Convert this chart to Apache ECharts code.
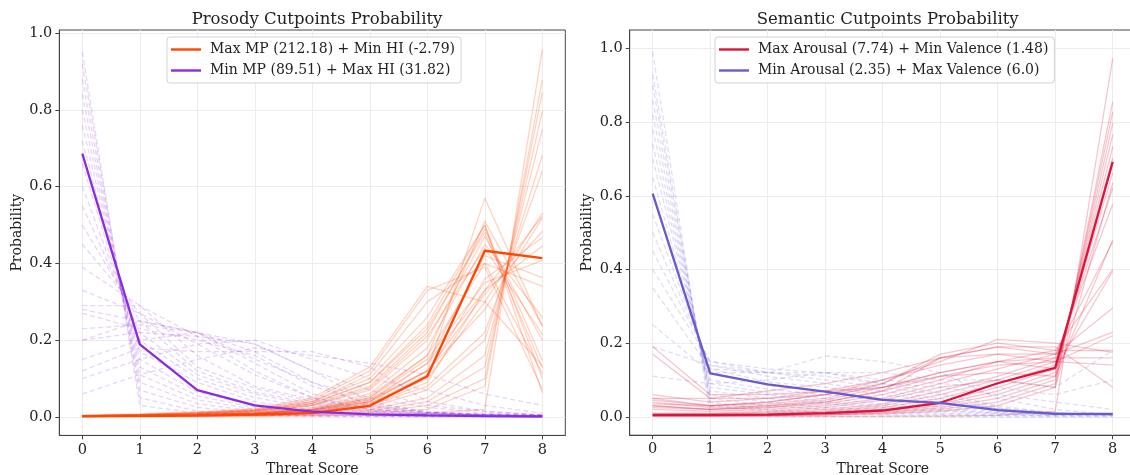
<!DOCTYPE html>
<html>
<head>
<meta charset="utf-8">
<script src="https://cdn.jsdelivr.net/npm/echarts@6/dist/echarts.min.js"></script>
<style>
html,body{margin:0;padding:0;background:#fff;}
#chart{width:1130px;height:475px;}
</style>
</head>
<body>
<div id="chart"></div>
<script>
// ---------- DATA ----------
const scores = [0, 1, 2, 3, 4, 5, 6, 7, 8];
const yTicks = [0, 0.2, 0.4, 0.6, 0.8, 1.0];

const prosodyTitle = 'Prosody Cutpoints Probability';
const semanticTitle = 'Semantic Cutpoints Probability';
const prosodyHighName = 'Max MP (212.18) + Min HI (-2.79)';
const prosodyLowName = 'Min MP (89.51) + Max HI (31.82)';
const semanticHighName = 'Max Arousal (7.74) + Min Valence (1.48)';
const semanticLowName = 'Min Arousal (2.35) + Max Valence (6.0)';

const prosodyHighMain = [0.002, 0.003, 0.004, 0.006, 0.010, 0.029, 0.106, 0.433, 0.414];
const prosodyLowMain = [0.686, 0.189, 0.070, 0.030, 0.014, 0.007, 0.004, 0.002, 0.001];
const semanticHighMain = [0.005, 0.005, 0.006, 0.010, 0.017, 0.038, 0.091, 0.133, 0.692];
const semanticLowMain = [0.606, 0.118, 0.088, 0.068, 0.046, 0.038, 0.018, 0.008, 0.008];

const prosodyHighSamples = [
  [0.001,0.001,0.001,0.002,0.003,0.005,0.010,0.020,0.957],
  [0.001,0.001,0.002,0.003,0.005,0.010,0.020,0.080,0.878],
  [0.001,0.001,0.002,0.003,0.006,0.012,0.030,0.100,0.845],
  [0.001,0.002,0.003,0.004,0.008,0.015,0.040,0.130,0.797],
  [0.001,0.002,0.003,0.005,0.010,0.020,0.050,0.160,0.749],
  [0.001,0.002,0.003,0.006,0.012,0.025,0.070,0.200,0.681],
  [0.002,0.003,0.004,0.007,0.014,0.030,0.080,0.220,0.640],
  [0.002,0.003,0.005,0.008,0.016,0.035,0.100,0.300,0.531],
  [0.002,0.003,0.005,0.009,0.018,0.040,0.120,0.320,0.483],
  [0.002,0.003,0.005,0.010,0.020,0.045,0.140,0.330,0.445],
  [0.002,0.004,0.006,0.010,0.020,0.050,0.150,0.350,0.408],
  [0.002,0.004,0.006,0.011,0.022,0.055,0.160,0.400,0.340],
  [0.002,0.004,0.007,0.012,0.025,0.060,0.180,0.450,0.260],
  [0.003,0.005,0.008,0.014,0.030,0.070,0.200,0.470,0.200],
  [0.003,0.005,0.008,0.015,0.032,0.080,0.220,0.490,0.147],
  [0.003,0.006,0.009,0.016,0.035,0.090,0.240,0.500,0.101],
  [0.003,0.006,0.010,0.018,0.040,0.100,0.260,0.500,0.063],
  [0.004,0.007,0.012,0.020,0.045,0.120,0.330,0.390,0.072],
  [0.004,0.008,0.013,0.022,0.050,0.130,0.340,0.300,0.133],
  [0.003,0.006,0.010,0.018,0.040,0.110,0.300,0.400,0.113],
  [0.002,0.003,0.005,0.008,0.016,0.040,0.120,0.570,0.236],
  [0.002,0.004,0.006,0.010,0.020,0.050,0.160,0.510,0.238],
  [0.002,0.003,0.005,0.009,0.018,0.040,0.140,0.420,0.363],
  [0.001,0.002,0.004,0.007,0.014,0.035,0.110,0.360,0.467],
  [0.001,0.002,0.004,0.007,0.013,0.030,0.090,0.330,0.523],
  [0.002,0.003,0.005,0.009,0.018,0.045,0.120,0.280,0.518],
  [0.003,0.005,0.008,0.014,0.030,0.075,0.210,0.440,0.215],
  [0.003,0.006,0.010,0.017,0.036,0.090,0.230,0.480,0.128]
];

const prosodyLowSamples = [
  [0.950,0.030,0.010,0.004,0.002,0.001,0.001,0.001,0.001],
  [0.920,0.050,0.015,0.006,0.003,0.002,0.001,0.001,0.002],
  [0.880,0.070,0.025,0.010,0.005,0.003,0.002,0.002,0.003],
  [0.840,0.090,0.035,0.015,0.008,0.004,0.003,0.002,0.003],
  [0.800,0.110,0.045,0.020,0.010,0.006,0.004,0.003,0.002],
  [0.760,0.130,0.055,0.025,0.012,0.007,0.005,0.003,0.003],
  [0.720,0.150,0.065,0.030,0.015,0.008,0.005,0.004,0.003],
  [0.660,0.170,0.090,0.040,0.018,0.010,0.006,0.004,0.002],
  [0.600,0.200,0.100,0.050,0.025,0.012,0.007,0.004,0.002],
  [0.550,0.220,0.110,0.060,0.030,0.015,0.008,0.005,0.002],
  [0.500,0.250,0.120,0.065,0.035,0.015,0.008,0.005,0.002],
  [0.450,0.270,0.130,0.075,0.040,0.018,0.009,0.006,0.002],
  [0.390,0.290,0.160,0.080,0.045,0.020,0.010,0.006,0.003],
  [0.330,0.270,0.190,0.110,0.050,0.025,0.012,0.008,0.005],
  [0.290,0.290,0.210,0.120,0.050,0.020,0.010,0.006,0.004],
  [0.280,0.250,0.220,0.140,0.060,0.030,0.010,0.006,0.004],
  [0.270,0.230,0.200,0.160,0.080,0.035,0.015,0.006,0.004],
  [0.230,0.240,0.220,0.170,0.090,0.030,0.012,0.005,0.003],
  [0.200,0.220,0.210,0.190,0.120,0.040,0.012,0.005,0.003],
  [0.120,0.180,0.170,0.170,0.170,0.130,0.040,0.015,0.005],
  [0.100,0.150,0.190,0.200,0.150,0.100,0.070,0.030,0.010],
  [0.060,0.110,0.150,0.180,0.160,0.140,0.110,0.060,0.030],
  [0.200,0.250,0.220,0.150,0.090,0.050,0.025,0.010,0.005],
  [0.150,0.200,0.220,0.190,0.120,0.070,0.030,0.015,0.005]
];

const semanticHighSamples = [
  [0.001,0.001,0.001,0.001,0.002,0.002,0.004,0.015,0.973],
  [0.002,0.002,0.003,0.005,0.008,0.015,0.030,0.080,0.855],
  [0.002,0.002,0.003,0.005,0.010,0.020,0.040,0.090,0.828],
  [0.003,0.003,0.004,0.006,0.012,0.025,0.050,0.100,0.797],
  [0.003,0.003,0.005,0.008,0.015,0.030,0.060,0.110,0.766],
  [0.004,0.004,0.006,0.010,0.018,0.035,0.070,0.120,0.733],
  [0.004,0.005,0.007,0.012,0.020,0.040,0.080,0.130,0.702],
  [0.005,0.006,0.008,0.014,0.025,0.050,0.090,0.140,0.662],
  [0.006,0.007,0.010,0.016,0.030,0.060,0.100,0.150,0.621],
  [0.008,0.008,0.012,0.020,0.035,0.070,0.110,0.160,0.577],
  [0.020,0.015,0.020,0.030,0.050,0.090,0.130,0.170,0.475],
  [0.030,0.020,0.025,0.035,0.060,0.100,0.150,0.180,0.400],
  [0.040,0.025,0.030,0.040,0.070,0.160,0.170,0.170,0.295],
  [0.045,0.030,0.035,0.050,0.090,0.160,0.190,0.170,0.230],
  [0.050,0.030,0.040,0.060,0.090,0.170,0.200,0.180,0.180],
  [0.035,0.030,0.040,0.060,0.100,0.150,0.210,0.200,0.175],
  [0.190,0.060,0.060,0.070,0.080,0.110,0.140,0.150,0.140],
  [0.170,0.050,0.050,0.060,0.080,0.120,0.150,0.160,0.160],
  [0.030,0.020,0.030,0.045,0.080,0.120,0.150,0.130,0.395],
  [0.025,0.020,0.025,0.040,0.070,0.110,0.120,0.110,0.480],
  [0.010,0.010,0.015,0.025,0.045,0.080,0.100,0.080,0.635],
  [0.060,0.040,0.050,0.070,0.100,0.140,0.170,0.150,0.220],
  [0.050,0.050,0.070,0.090,0.120,0.160,0.190,0.190,0.080]
];

const semanticLowSamples = [
  [0.990,0.005,0.002,0.001,0.001,0.001,0.000,0.000,0.000],
  [0.930,0.030,0.015,0.008,0.006,0.004,0.003,0.002,0.002],
  [0.900,0.040,0.020,0.012,0.010,0.007,0.005,0.003,0.003],
  [0.860,0.050,0.030,0.020,0.015,0.010,0.007,0.004,0.004],
  [0.820,0.060,0.040,0.025,0.020,0.015,0.009,0.006,0.005],
  [0.780,0.070,0.050,0.035,0.025,0.018,0.010,0.007,0.005],
  [0.740,0.080,0.060,0.040,0.030,0.022,0.012,0.008,0.008],
  [0.700,0.090,0.065,0.050,0.035,0.028,0.015,0.009,0.008],
  [0.650,0.100,0.075,0.060,0.045,0.035,0.018,0.009,0.008],
  [0.600,0.120,0.085,0.070,0.050,0.040,0.020,0.010,0.005],
  [0.550,0.130,0.095,0.080,0.060,0.045,0.022,0.010,0.008],
  [0.500,0.140,0.110,0.090,0.070,0.050,0.022,0.010,0.008],
  [0.450,0.150,0.120,0.100,0.080,0.060,0.025,0.010,0.005],
  [0.400,0.150,0.130,0.120,0.090,0.065,0.030,0.010,0.005],
  [0.250,0.120,0.120,0.165,0.150,0.120,0.050,0.020,0.005],
  [0.110,0.090,0.100,0.120,0.120,0.100,0.100,0.080,0.180],
  [0.190,0.140,0.120,0.120,0.100,0.090,0.080,0.060,0.100],
  [0.350,0.130,0.120,0.110,0.090,0.080,0.060,0.040,0.020]
];

// ---------- STYLE ----------
const FONT = 'DejaVu Serif';
const C_ORANGE = '#FF4500';
const C_VIOLET = '#8A2BE2';
const C_CRIMSON = '#DC143C';
const C_SLATE = '#6A5ACD';

const chart = echarts.init(document.getElementById('chart'), null, {renderer: 'canvas'});

function pts(vals) { return scores.map((x, i) => [x, vals[i]]); }

function faint(vals, color, dashed, gi) {
  return {
    type: 'line', xAxisIndex: gi, yAxisIndex: gi, data: pts(vals),
    symbol: 'none', silent: true, z: 2, animation: false,
    lineStyle: {color: color, width: 1.3, opacity: dashed ? 0.2 : 0.24, type: dashed ? [5, 3] : 'solid'},
    emphasis: {disabled: true}
  };
}
function main(name, vals, color, gi, z) {
  return {
    name: name, type: 'line', xAxisIndex: gi, yAxisIndex: gi, data: pts(vals),
    symbol: 'none', z: z, animation: false, itemStyle: {color: color},
    lineStyle: {color: color, width: 2.3},
    emphasis: {disabled: true}
  };
}

function xAx(gi) {
  return {
    type: 'value', gridIndex: gi, min: -0.4, max: 8.4,
    name: 'Threat Score', nameLocation: 'middle', nameGap: 23,
    nameTextStyle: {fontFamily: FONT, fontSize: 14, color: '#222'},
    axisLine: {show: true, onZero: false, lineStyle: {color: '#444'}},
    axisTick: {show: true, customValues: scores, length: 4, lineStyle: {color: '#444'}},
    axisLabel: {customValues: scores, margin: 7, fontFamily: FONT, fontSize: 14.5, color: '#222'},
    splitLine: {show: true, customValues: scores, lineStyle: {color: '#ececec', width: 1}}
  };
}
function yAx(gi, min, max) {
  return {
    type: 'value', gridIndex: gi, min: min, max: max,
    name: 'Probability', nameLocation: 'middle', nameGap: 35,
    nameTextStyle: {fontFamily: FONT, fontSize: 14, color: '#222'},
    axisLine: {show: true, onZero: false, lineStyle: {color: '#444'}},
    axisTick: {show: true, customValues: yTicks, length: 4, lineStyle: {color: '#444'}},
    axisLabel: {customValues: yTicks, margin: 7, fontFamily: FONT, fontSize: 14.5, color: '#222',
      formatter: v => v.toFixed(1)},
    splitLine: {show: true, customValues: yTicks, lineStyle: {color: '#ececec', width: 1}}
  };
}

const series = [];
prosodyHighSamples.forEach(v => series.push(faint(v, C_ORANGE, false, 0)));
prosodyLowSamples.forEach(v => series.push(faint(v, C_VIOLET, true, 0)));
series.push(main(prosodyHighName, prosodyHighMain, C_ORANGE, 0, 4));
series.push(main(prosodyLowName, prosodyLowMain, C_VIOLET, 0, 5));
semanticHighSamples.forEach(v => series.push(faint(v, C_CRIMSON, false, 1)));
semanticLowSamples.forEach(v => series.push(faint(v, C_SLATE, true, 1)));
series.push(main(semanticHighName, semanticHighMain, C_CRIMSON, 1, 4));
series.push(main(semanticLowName, semanticLowMain, C_SLATE, 1, 5));

const legendBase = {
  orient: 'vertical', top: 37, icon: 'rect', itemWidth: 30, itemHeight: 2.4, itemGap: 4,
  padding: [4, 6, 4, 4], backgroundColor: 'rgba(255,255,255,0.85)',
  borderColor: '#d3d3d3', borderWidth: 1, borderRadius: 3,
  textStyle: {fontFamily: FONT, fontSize: 14, color: '#222', lineHeight: 17, padding: [0, 0, 0, 4]},
  selectedMode: false
};

chart.setOption({
  animation: false,
  backgroundColor: '#fff',
  title: [
    {text: prosodyTitle, left: 312, top: 6, textAlign: 'center',
     textStyle: {fontFamily: FONT, fontSize: 16.5, fontWeight: 'normal', color: '#222'}},
    {text: semanticTitle, left: 882.7, top: 6, textAlign: 'center',
     textStyle: {fontFamily: FONT, fontSize: 16.5, fontWeight: 'normal', color: '#222'}}
  ],
  legend: [
    Object.assign({}, legendBase, {left: 167, data: [prosodyHighName, prosodyLowName]}),
    Object.assign({}, legendBase, {left: 715, data: [semanticHighName, semanticLowName]})
  ],
  grid: [
    {left: 59.3, top: 30, width: 506, height: 405.4, show: true, borderColor: '#444', borderWidth: 1,
     backgroundColor: 'transparent', containLabel: false, outerBoundsMode: 'none'},
    {left: 629.7, top: 30, width: 506, height: 405.2, show: true, borderColor: '#444', borderWidth: 1,
     backgroundColor: 'transparent', containLabel: false, outerBoundsMode: 'none'}
  ],
  xAxis: [xAx(0), xAx(1)],
  yAxis: [yAx(0, -0.048, 1.008), yAx(1, -0.05, 1.05)],
  series: series
});
</script>
</body>
</html>
